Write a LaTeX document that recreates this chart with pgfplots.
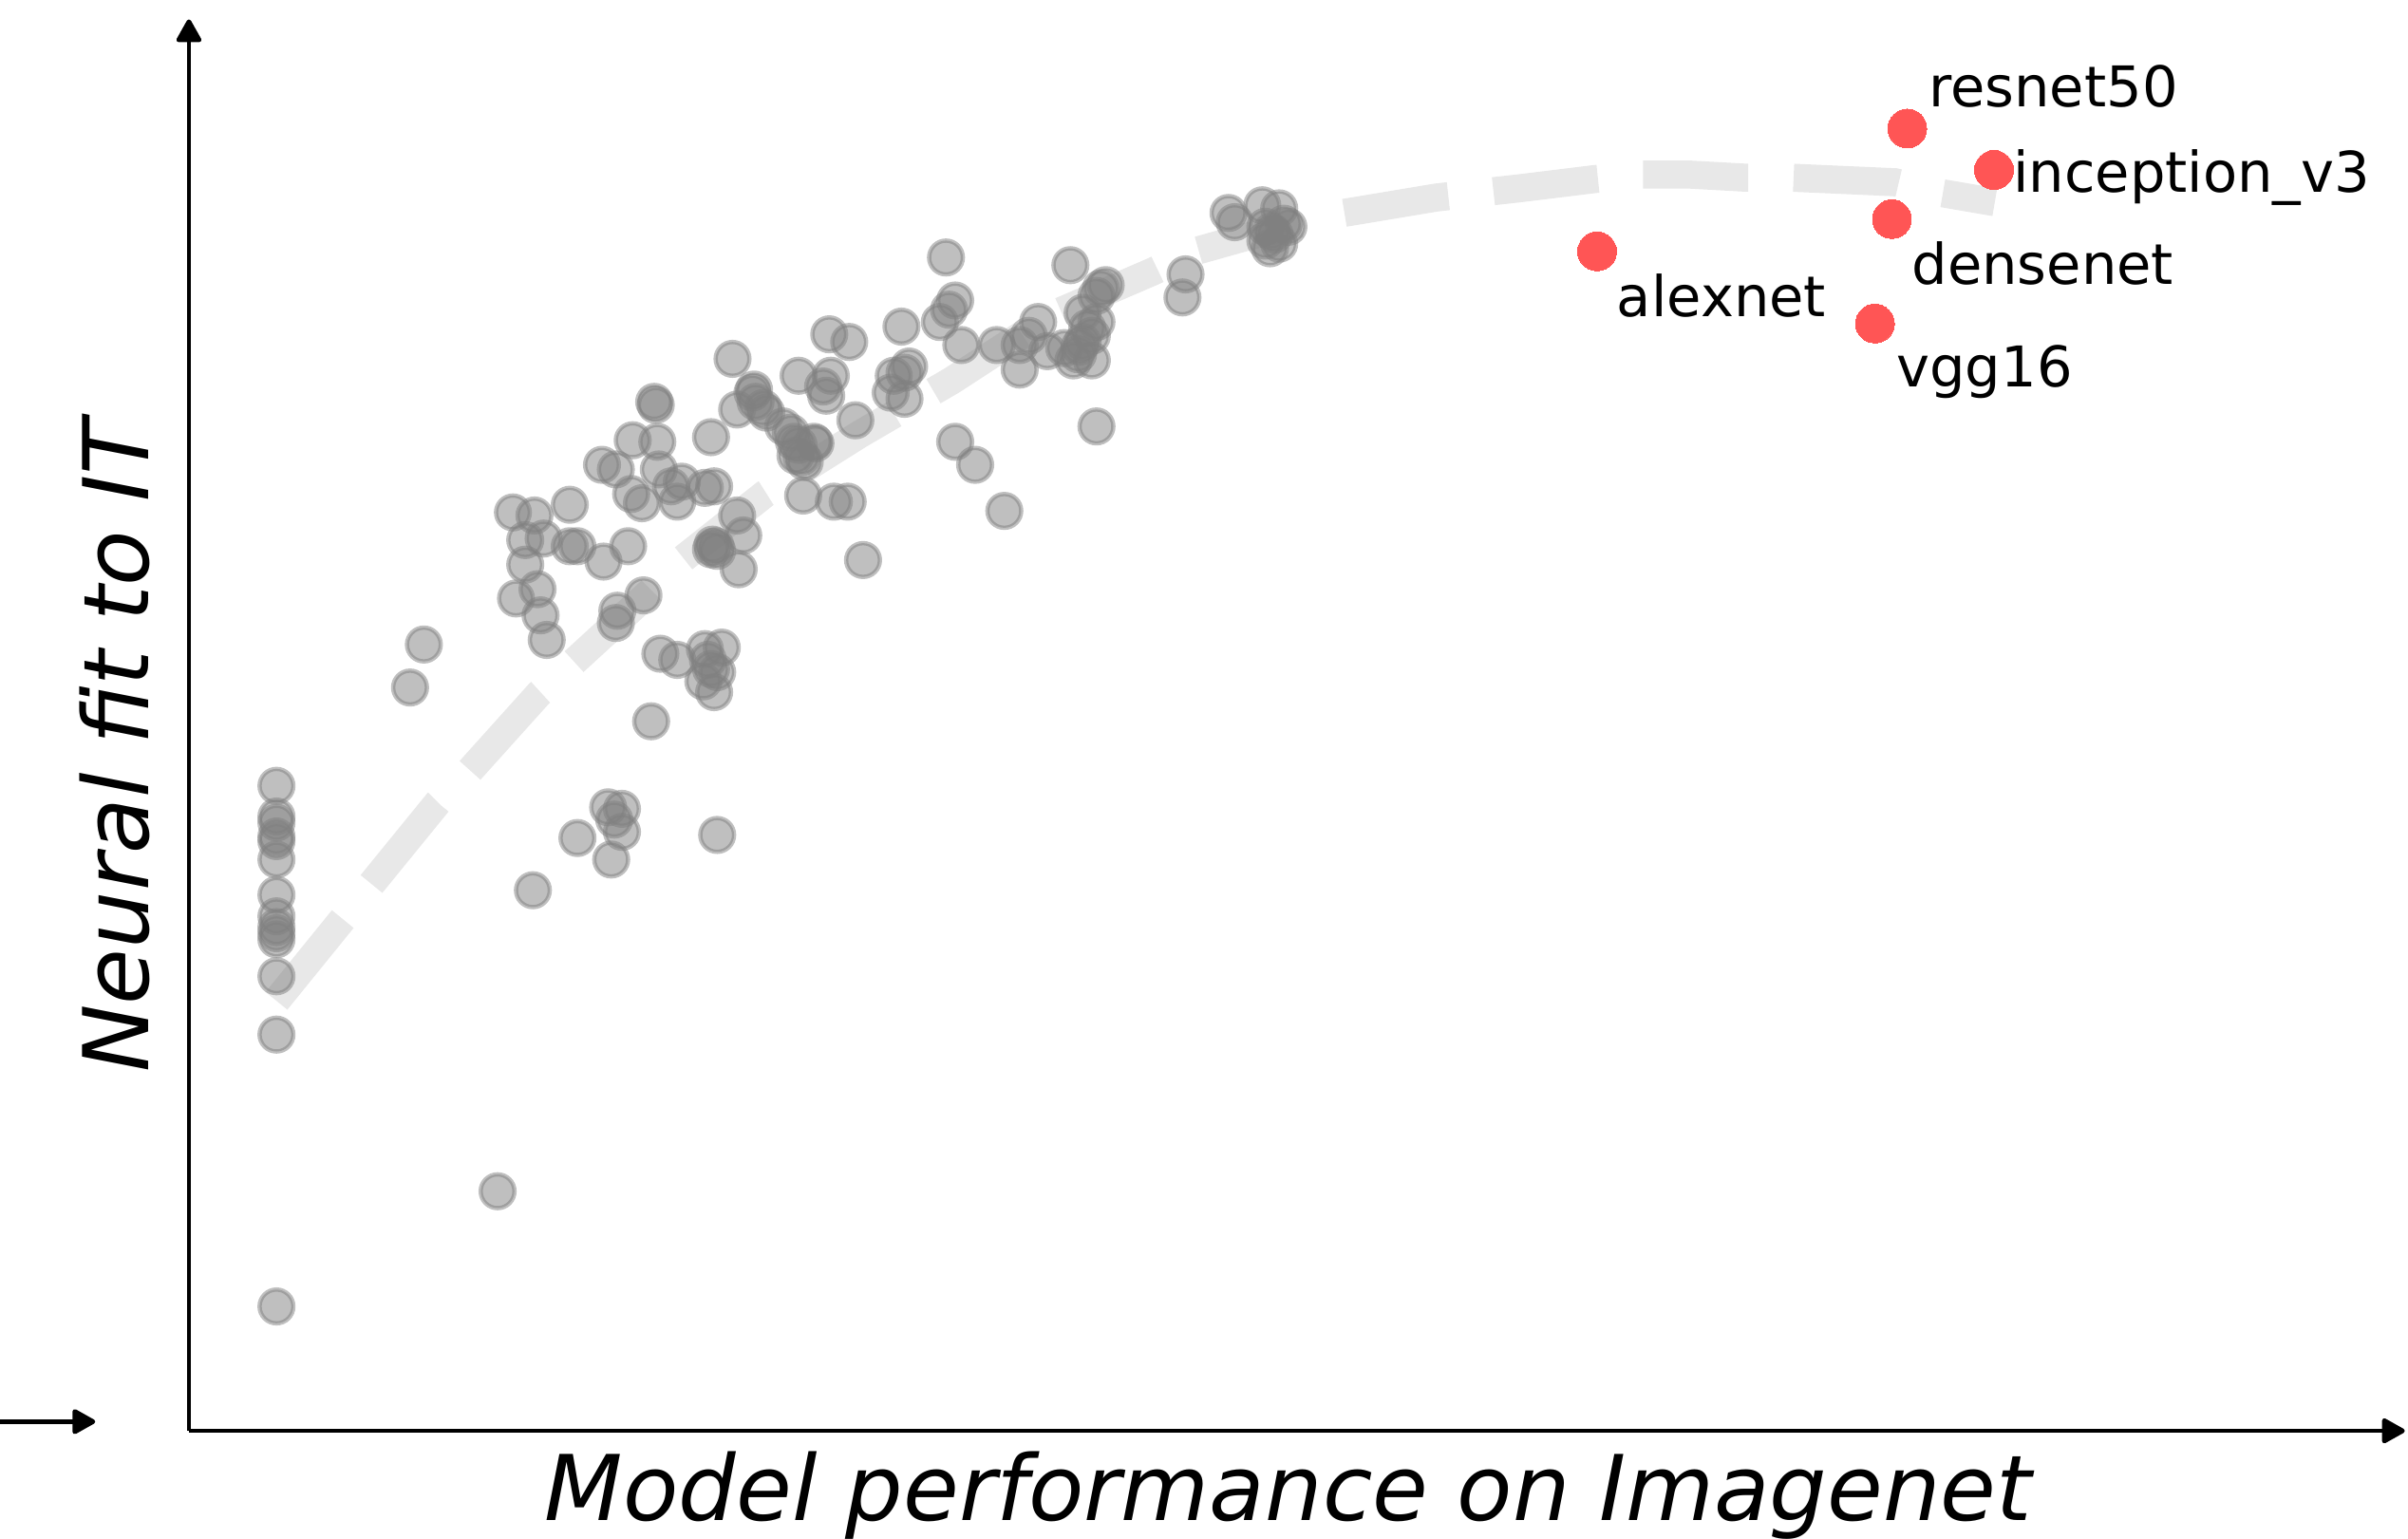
\documentclass[border=0pt]{standalone}
\usepackage{fontspec}
\setmainfont{DejaVu Sans}
\usepackage{pgfplots}
\usepackage{pgfplotstable}
\pgfplotsset{compat=1.18}
\usetikzlibrary{arrows.meta}
\definecolor{redpt}{RGB}{255,85,85}
\definecolor{curvegray}{RGB}{232,232,232}

\pgfplotstableread{
x y
180 490
180 470
180 466
180 457
180 454
180 442
180 419
180 405
180 398
180 394
180 390
180 366
180 328
180 151
347 422
376 456
396 476
405 475
400 468
405 460
398 442
467 458
324 226
424 532
430 576
441 572
459 579
470 580
463 566
458 558
465 551
461 572
467 564
276 582
267 554
401 596
419 614
356 585
352 601
336 612
350 618
342 634
342 650
354 651
334 668
348 666
371 673
371 646
376 646
393 636
409 646
392 699
401 696
412 715
426 740
427 738
428 714
429 696
411 680
418 674
437 685
444 688
441 675
459 684
465 685
480 666
484 653
463 644
466 646
481 631
463 717
477 768
480 735
490 746
492 740
499 733
510 724
517 714
520 712
518 705
522 704
531 713
523 679
543 675
552 675
520 757
538 744
536 750
541 757
540 784
553 779
557 728
562 637
402 604
491 748
497 736
515 720
530 714
524 701
464 647
467 643
587 789
589 759
582 757
580 746
589 742
592 763
612 792
622 806
618 800
616 834
626 777
622 714
635 699
654 669
649 777
664 777
664 761
670 783
676 792
682 773
697 829
693 775
699 767
702 771
703 776
705 779
705 798
708 788
711 783
711 767
714 792
714 809
717 814
720 816
714 724
772 823
770 808
800 863
804 857
822 868
833 866
836 856
839 854
824 854
830 849
833 843
827 840
824 845
828 851
}\grayData

\begin{document}
\begin{tikzpicture}
\begin{axis}[
  scale only axis,
  width=410.5pt, height=261.5pt,
  xmin=123, xmax=1566, ymin=70, ymax=989,
  enlargelimits=false,
  axis x line=bottom, axis y line=left,
  axis line style={line width=0.85pt},
  every outer x axis line/.append style={-{Triangle[length=4.7pt,width=5pt,round]}},
  every outer y axis line/.append style={-{Triangle[length=4.7pt,width=5pt,round]}},
  ticks=none,
  clip=false,
]
\addplot[curvegray, line width=5.2pt, line cap=butt, dash pattern=on 19.5pt off 8.4pt] coordinates {
(180,350) (223,403) (241,425) (285,479) (306,500) (351,550) (374,571)
(423,616) (445,638) (498,680) (560,719) (620,754) (686,797) (751,825)
(778,838) (810,847) (875,863) (935,873) (989,879) (1038,885) (1067,888)
(1100,888) (1136,886) (1166,886) (1234,883) (1264,876) (1299,870)
};
\addplot[only marks, mark=*, mark size=3.13pt,
  mark options={fill=gray, draw=gray, fill opacity=0.5, draw opacity=0.5, line width=0.8pt}]
  table {\grayData};
\addplot[only marks, mark=*, mark size=3.6pt,
  mark options={fill=redpt, draw=redpt, line width=0pt}] coordinates {
(1242,918) (1298.5,891) (1232,859) (1040,838) (1221,791)
};
\begin{scope}[every node/.style={inner sep=0pt, outer sep=0pt, font=\fontsize{10.4}{12.5}\selectfont}]
\node[anchor=base west] at (axis cs:1256,932) {resnet50};
\node[anchor=base west] at (axis cs:1311,876.4) {inception\_v3};
\node[anchor=base west] at (axis cs:1245,816.5) {densenet};
\node[anchor=base west] at (axis cs:1053,795.4) {alexnet};
\node[anchor=base west] at (axis cs:1235,749.6) {vgg16};
\end{scope}
\node[anchor=base, inner sep=0pt, font=\fontsize{16.8}{20}\selectfont\itshape] at (axis cs:839,11.5) {Model performance on Imagenet};
\node[anchor=base, rotate=90, inner sep=0pt, font=\fontsize{16.8}{20}\selectfont\itshape] at (axis cs:97,516) {Neural fit to IT};
\draw[line width=0.85pt, -{Triangle[length=4.7pt,width=5pt,round]}] (axis cs:-5,76) -- (axis cs:62,76);
\end{axis}
\pgfresetboundingbox
\path (-35.0pt,-19.9pt) rectangle (411.1pt,265.1pt);
\end{tikzpicture}
\end{document}
